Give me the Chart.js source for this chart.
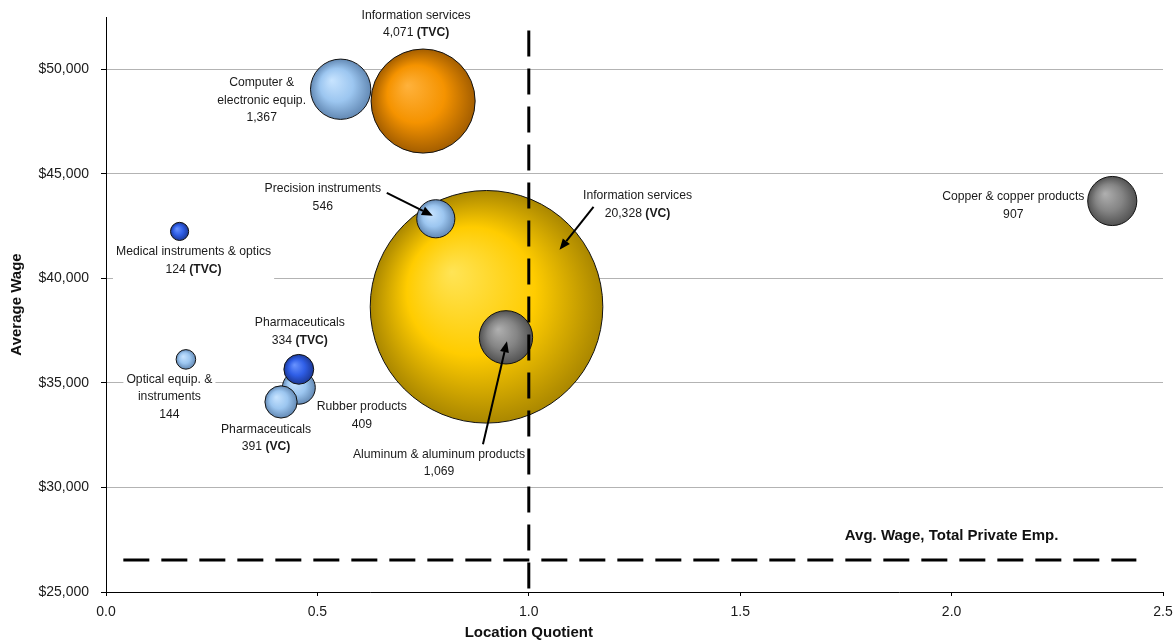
<!DOCTYPE html>
<html>
<head>
<meta charset="utf-8">
<style>
  html, body { margin: 0; padding: 0; background: #fff; }
  #wrap { width: 1176px; height: 641px; position: relative; }
</style>
<script src="https://cdn.jsdelivr.net/npm/chart.js@4.4.0/dist/chart.umd.min.js"></script>
</head>
<body>
<div id="wrap"><canvas id="chart"></canvas></div>
<script>
// data, biggest bubble first so small ones end up on top
const industries = ['Information services', 'Information services', 'Computer &\nelectronic equip.',
    'Aluminum & aluminum products', 'Copper & copper products', 'Precision instruments',
    'Rubber products', 'Pharmaceuticals', 'Pharmaceuticals', 'Optical equip. &\ninstruments',
    'Medical instruments & optics'];
const capitalType = ['VC', 'TVC', '', '', '', '', '', 'VC', 'TVC', '', 'TVC'];
const locationQuotient = [0.90, 0.75, 0.555, 0.946, 2.38, 0.780, 0.456, 0.414, 0.456, 0.189, 0.174];
const averageWage = [38640, 48480, 49045, 37180, 43700, 42850, 34770, 34090, 35650, 36125, 42245];
const employment = [20328, 4071, 1367, 1069, 907, 546, 409, 391, 334, 144, 124];

const xTicks = [0, 0.5, 1.0, 1.5, 2.0, 2.5];
const yTicks = [25000, 30000, 35000, 40000, 45000, 50000];
const wageMax = 52500;

const lqBenchmark = 1.0;
const benchmarkTop = 51850;
const avgPrivateWage = 26530;
const avgWageSpan = [0.041, 2.437];

// styles
const bubbleColors = ['gold', 'orange', 'light', 'gray', 'gray', 'light', 'light', 'light', 'blue', 'light', 'blue'];
const palette = {
    light:  ['#c8e4ff', '#9cc6f0', '#6389b4'],
    orange: ['#ffb23c', '#f59300', '#a45e00'],
    gold:   ['#ffe456', '#ffcc00', '#aa8700'],
    gray:   ['#b0b0b0', '#858585', '#525252'],
    blue:   ['#6a94ff', '#2f5ee6', '#1b3896']
};
// label position relative to bubble centre (first line), px
const labelOffsets = [[151, -110.7], [-7, -85.5], [-79, -6.5], [-67, 117], [-99, -4], [-113, -29.7],
    [63, 19.2], [-15, 27.6], [1, -46.5], [-16.5, 19.8], [14, 20.4]];
const callouts = [
    { index: 0, from: [107, -100], to: [73, -57] },
    { index: 5, from: [-49, -26], to: [-3, -3] },
    { index: 3, from: [-23, 107], to: [1, 4] }
];
const LINE_H = 17.5;
const FONT = '"Liberation Sans", Arial, sans-serif';

function bubbleRadius(emp) {
    return 0.8157 * Math.sqrt(emp);
}

function bubbleFill(ctx) {
    const stops = palette[bubbleColors[ctx.dataIndex]];
    if (ctx.type !== 'data') return stops[1];
    const chart = ctx.chart;
    const i = ctx.dataIndex;
    const cx = chart.scales.x.getPixelForValue(locationQuotient[i]);
    const cy = chart.scales.y.getPixelForValue(averageWage[i]);
    const r = bubbleRadius(employment[i]);
    if (!isFinite(cx) || !isFinite(cy)) return stops[1];
    const g = chart.ctx.createRadialGradient(cx - 0.3 * r, cy - 0.3 * r, 0, cx, cy, r);
    g.addColorStop(0, stops[0]);
    g.addColorStop(0.55, stops[1]);
    g.addColorStop(1, stops[2]);
    return g;
}

function labelLines(i) {
    const lines = industries[i].split('\n').map(t => [{ text: t, bold: false }]);
    const last = [{ text: employment[i].toLocaleString('en-US'), bold: false }];
    if (capitalType[i]) {
        last.push({ text: ' ', bold: false });
        last.push({ text: '(' + capitalType[i] + ')', bold: true });
    }
    lines.push(last);
    return lines;
}

function segFont(bold) {
    return (bold ? 'bold ' : '') + '12.2px ' + FONT;
}

function lineWidth(ctx, segs) {
    let w = 0;
    segs.forEach(s => { ctx.font = segFont(s.bold); w += ctx.measureText(s.text).width; });
    return w;
}

function bubbleCenter(chart, i) {
    return [chart.scales.x.getPixelForValue(locationQuotient[i]),
            chart.scales.y.getPixelForValue(averageWage[i])];
}

function drawArrow(ctx, x1, y1, x2, y2) {
    const ang = Math.atan2(y2 - y1, x2 - x1);
    const head = 11, half = 4.5;
    const bx = x2 - head * Math.cos(ang), by = y2 - head * Math.sin(ang);
    ctx.strokeStyle = '#000';
    ctx.fillStyle = '#000';
    ctx.lineWidth = 2;
    ctx.beginPath();
    ctx.moveTo(x1, y1);
    ctx.lineTo(bx, by);
    ctx.stroke();
    ctx.beginPath();
    ctx.moveTo(x2, y2);
    ctx.lineTo(bx + half * Math.sin(ang), by - half * Math.cos(ang));
    ctx.lineTo(bx - half * Math.sin(ang), by + half * Math.cos(ang));
    ctx.closePath();
    ctx.fill();
}

const annotations = {
    id: 'annotations',
    beforeDatasetsDraw(chart) {
        // white boxes behind data labels (they cut the grid lines)
        const ctx = chart.ctx;
        ctx.save();
        ctx.fillStyle = '#fff';
        industries.forEach((_, i) => {
            const [cx, cy] = bubbleCenter(chart, i);
            const lines = labelLines(i);
            const w = Math.max(...lines.map(l => lineWidth(ctx, l)));
            const x = cx + labelOffsets[i][0];
            const y = cy + labelOffsets[i][1];
            ctx.fillRect(x - w / 2 - 3, y - LINE_H / 2 - 3, w + 6, LINE_H * lines.length + 6);
        });
        ctx.restore();
    },
    afterDatasetsDraw(chart) {
        const ctx = chart.ctx;
        const xs = chart.scales.x, ys = chart.scales.y;
        ctx.save();
        ctx.fillStyle = '#1a1a1a';
        ctx.textBaseline = 'middle';
        ctx.textAlign = 'left';
        industries.forEach((_, i) => {
            const [cx, cy] = bubbleCenter(chart, i);
            const x = cx + labelOffsets[i][0];
            let y = cy + labelOffsets[i][1];
            labelLines(i).forEach(segs => {
                let lx = x - lineWidth(ctx, segs) / 2;
                segs.forEach(s => {
                    ctx.font = segFont(s.bold);
                    ctx.fillText(s.text, lx, y);
                    lx += ctx.measureText(s.text).width;
                });
                y += LINE_H;
            });
        });

        callouts.forEach(c => {
            const [cx, cy] = bubbleCenter(chart, c.index);
            drawArrow(ctx, cx + c.from[0], cy + c.from[1], cx + c.to[0], cy + c.to[1]);
        });

        ctx.fillStyle = '#111';
        ctx.textAlign = 'center';
        ctx.font = 'bold 15px ' + FONT;
        ctx.fillText('Avg. Wage, Total Private Emp.', xs.getPixelForValue(2.0), ys.getPixelForValue(avgPrivateWage) - 24);

        // axis titles
        ctx.fillText('Location Quotient', xs.getPixelForValue(lqBenchmark), 633);
        ctx.translate(17, (chart.chartArea.top + chart.chartArea.bottom) / 2);
        ctx.rotate(-Math.PI / 2);
        ctx.fillText('Average Wage', 0, 0);
        ctx.restore();
    }
};

const ctx = document.getElementById('chart').getContext('2d');
new Chart(ctx, {
    type: 'bubble',
    data: {
        datasets: [{
            type: 'line',
            data: [{ x: lqBenchmark, y: benchmarkTop }, { x: lqBenchmark, y: yTicks[0] }],
            borderColor: '#000',
            borderWidth: 3,
            borderDash: [26, 12],
            borderCapStyle: 'butt',
            pointRadius: 0,
            fill: false,
            order: 0
        }, {
            type: 'line',
            data: [{ x: avgWageSpan[0], y: avgPrivateWage }, { x: avgWageSpan[1], y: avgPrivateWage }],
            borderColor: '#000',
            borderWidth: 3,
            borderDash: [26, 12],
            borderCapStyle: 'butt',
            pointRadius: 0,
            fill: false,
            order: 0
        }, {
            data: industries.map((_, i) => ({
                x: locationQuotient[i],
                y: averageWage[i],
                r: bubbleRadius(employment[i])
            })),
            backgroundColor: bubbleFill,
            borderColor: '#111',
            borderWidth: 1,
            order: 1
        }]
    },
    options: {
        responsive: true,
        maintainAspectRatio: false,
        animation: false,
        events: [],
        layout: { autoPadding: false, padding: { top: 17, right: 13, left: 0, bottom: 0 } },
        plugins: {
            legend: { display: false },
            tooltip: { enabled: false }
        },
        scales: {
            x: {
                type: 'linear',
                min: xTicks[0],
                max: xTicks[xTicks.length - 1],
                afterFit: s => { s.height = 49; s.paddingLeft = 0; s.paddingRight = 0; },
                afterBuildTicks: s => { s.ticks = xTicks.map(v => ({ value: v })); },
                grid: { drawOnChartArea: false, tickLength: 4, tickColor: '#000' },
                border: { color: '#000', width: 1 },
                ticks: {
                    padding: 8,
                    color: '#1a1a1a',
                    font: { family: FONT, size: 14 },
                    callback: v => Number(v).toFixed(1)
                }
            },
            y: {
                type: 'linear',
                min: yTicks[0],
                max: wageMax,
                afterFit: s => { s.width = 106; s.paddingTop = 0; s.paddingBottom = 0; },
                afterBuildTicks: s => { s.ticks = yTicks.map(v => ({ value: v })); },
                grid: { color: '#b3b3b3', tickLength: 5, tickColor: '#000' },
                border: { color: '#000', width: 1 },
                ticks: {
                    padding: 12,
                    color: '#1a1a1a',
                    font: { family: FONT, size: 14 },
                    callback: v => '$' + Number(v).toLocaleString('en-US')
                }
            }
        }
    },
    plugins: [annotations]
});
</script>
</body>
</html>
